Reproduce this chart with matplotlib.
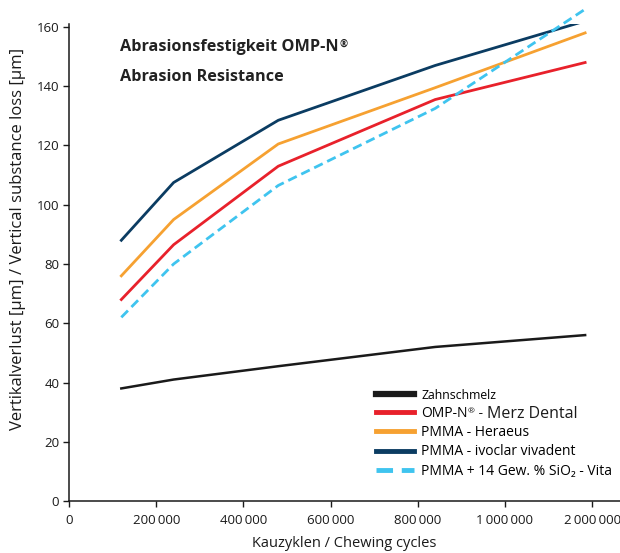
import numpy as np
import matplotlib
matplotlib.use("Agg")
import matplotlib.pyplot as plt

plt.rcParams['font.family'] = ['Open Sans', 'DejaVu Sans']

# Kauzyklen (chewing cycles) and vertical loss in µm
cycles = [120000, 240000, 480000, 840000, 1920000]
zahnschmelz = [38.0, 41.0, 45.5, 52.0, 56.0]
omp_merz = [68.0, 86.5, 113.0, 135.5, 148.0]
pmma_heraeus = [76.0, 95.0, 120.5, 139.5, 158.0]
pmma_ivoclar = [88.0, 107.5, 128.5, 147.0, 162.0]
pmma_vita = [62.0, 80.0, 106.5, 132.5, 166.0]

xticks = [0, 200000, 400000, 600000, 800000, 1000000, 2000000]
xticklabels = ["0", "200\u2009000", "400\u2009000", "600\u2009000", "800\u2009000",
               "1\u2009000\u2009000", "2\u2009000\u2009000"]
yticks = [0, 20, 40, 60, 80, 100, 120, 140, 160]


# axis is linear up to 1 000 000, then the last step is 1 000 000 wide
def fwd(x):
    x = np.asarray(x, float)
    return np.where(x <= 1e6, x / 2e5, 5 + (x - 1e6) / 1e6)


def inv(t):
    t = np.asarray(t, float)
    return np.where(t <= 5, t * 2e5, 1e6 + (t - 5) * 1e6)


fig = plt.figure(figsize=(6.2, 5.53), dpi=100)
ax = fig.add_axes([0.1113, 0.094, 0.8887, 0.8626])
ax.set_xscale('function', functions=(fwd, inv))

lw = 2.0
ax.plot(cycles, zahnschmelz, color='#1a1a1a', lw=1.8, label='Zahnschmelz')
ax.plot(cycles, omp_merz, color='#e8212b', lw=lw, label='OMP-N')
ax.plot(cycles, pmma_heraeus, color='#f6a131', lw=lw, label='PMMA - Heraeus')
ax.plot(cycles, pmma_ivoclar, color='#0b3c62', lw=lw, label='PMMA - ivoclar vivadent')
ax.plot(cycles, pmma_vita, color='#3fc4ef', lw=lw, ls=(0, (3.4, 1.8)), clip_on=False,
        label='PMMA + 14 Gew. % SiO\u2082 - Vita')

ax.set_xlim(0, 2320000)
ax.set_ylim(0, 161)
ax.set_xticks(xticks)
ax.set_xticklabels(xticklabels)
ax.set_yticks(yticks)
ax.minorticks_off()
ax.tick_params(direction='out', length=4, width=1, labelsize=9.5, colors='#1a1a1a', pad=3)
ax.tick_params(axis='x', pad=5)

for s in ['top', 'right']:
    ax.spines[s].set_visible(False)
for s in ['left', 'bottom']:
    ax.spines[s].set_linewidth(1.1)
    ax.spines[s].set_color('#1a1a1a')

ax.set_xlabel('Kauzyklen / Chewing cycles', fontsize=10.5, color='#1a1a1a', labelpad=7)
ax.set_ylabel('Vertikalverlust [µm] / Vertical substance loss [µm]', fontsize=12,
              color='#1a1a1a')
ax.yaxis.set_label_coords(-0.078, 0.55)

t1 = fig.text(0.1935, 0.915, 'Abrasionsfestigkeit OMP-N', fontsize=11.7, fontweight='bold',
              color='#222222', va='center')
fig.text(0.1935, 0.861, 'Abrasion Resistance', fontsize=11.7, fontweight='bold',
         color='#222222', va='center')

leg = ax.legend(loc='lower left', bbox_to_anchor=(0.557, 0.047), frameon=False,
                fontsize=10, handlelength=2.75, handletextpad=0.5, labelspacing=0.3,
                borderpad=0, borderaxespad=0)
for line in leg.get_lines():
    line.set_linewidth(3.5)
leg.get_lines()[0].set_linewidth(4.5)
texts = leg.get_texts()
texts[0].set_fontsize(8.8)

fig.canvas.draw()
W, H = fig.bbox.width, fig.bbox.height


def place_after(x_px, y_px, s, **kw):
    t = fig.text(x_px / W, y_px / H, s, **kw)
    fig.canvas.draw()
    return t.get_window_extent()


# small raised ® in the title
bb = t1.get_window_extent()
place_after(bb.x1 + 0.5, bb.y1 - 5, '®', fontsize=7, fontweight='bold', color='#222222',
            va='center')

# legend entry: OMP-N® - Merz Dental
bb = texts[1].get_window_extent()
ymid = bb.y0 + bb.height / 2
b2 = place_after(bb.x1 + 0.5, bb.y1 - 6, '®', fontsize=6, color='#1a1a1a', va='center')
b3 = place_after(b2.x1, ymid, ' - ', fontsize=10, color='#1a1a1a', va='center')
place_after(b3.x1, ymid, 'Merz Dental', fontsize=11.5, color='#1a1a1a', va='center')

fig.savefig('out.png', dpi=100)
